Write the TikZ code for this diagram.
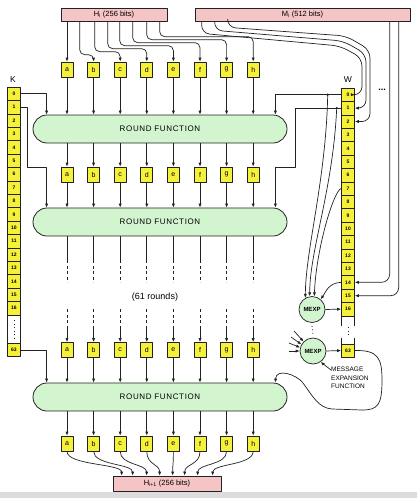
\documentclass[tikz,border=0pt]{standalone}
\usepackage{fontspec}
\setmainfont{Liberation Sans}
\usetikzlibrary{arrows.meta,calc}
\definecolor{regy}{HTML}{F5F03A}
\definecolor{rfg}{HTML}{D2F5CF}
\definecolor{pinkc}{HTML}{F5C4C4}
\definecolor{ink}{HTML}{222222}
\definecolor{stripg}{HTML}{DCDCDC}
\begin{document}
\begin{tikzpicture}[x=1pt,y=-1pt,line join=round,
  ln/.style={draw=ink,line width=0.7pt},
  arr/.style={ln,-{Latex[length=4pt,width=3.2pt]}},
  reg/.style={draw=ink,line width=0.7pt,fill=regy,minimum width=12pt,minimum height=15pt,inner sep=0pt,font=\fontsize{7}{7}\selectfont},
  cell/.style={draw=ink,line width=0.6pt,fill=regy,minimum width=13pt,minimum height=13.4pt,inner sep=0pt,font=\fontsize{5}{5}\selectfont\bfseries},
  rf/.style={draw=ink,line width=0.8pt,fill=rfg,rounded corners=14pt,minimum width=254pt,minimum height=28pt,inner sep=0pt,font=\fontsize{8}{8}\selectfont\addfontfeature{LetterSpace=8}},
  pbox/.style={draw=ink,line width=0.7pt,fill=pinkc,minimum height=13pt,inner sep=0pt,font=\fontsize{7.5}{7.5}\selectfont},
  mexp/.style={circle,draw=ink,line width=0.7pt,fill=rfg,minimum size=26pt,inner sep=0pt,font=\fontsize{6}{6}\selectfont\bfseries},
  jdot/.style={circle,fill=ink,inner sep=0pt,minimum size=2.6pt},
  dashv/.style={ln,dash pattern=on 3pt off 2.5pt},
  dotv/.style={ln,line width=0.9pt,dash pattern=on 0.9pt off 2.6pt},
  lbl/.style={font=\fontsize{8.5}{8.5}\selectfont}]
\useasboundingbox (0,0) rectangle (417,498);
\fill[stripg] (0,492) rectangle (417,498);

% message / hash boxes
\node[pbox,minimum width=106pt] (hi) at (114,14.5) {H\textsubscript{i} (256 bits)};
\node[pbox,minimum width=215pt] (mi) at (302.5,14.5) {M\textsubscript{i} (512 bits)};
\node[pbox,minimum width=108pt,minimum height=15pt] (hip) at (167,483.5) {H\textsubscript{i+1} (256 bits)};

% round functions
\node[rf] (rf1) at (160,129) {ROUND FUNCTION};
\node[rf] (rf2) at (160,222) {ROUND FUNCTION};
\node[rf] (rf3) at (160,397) {ROUND FUNCTION};

% registers
\foreach \j/\l in {1/a,2/b,3/c,4/d,5/e,6/f,7/g,8/h}{
  \node[reg] (r1-\j) at ({67+26.6*(\j-1)},69.5) {\l};
  \node[reg] (r2-\j) at ({67+26.6*(\j-1)},174.5) {\l};
  \node[reg] (r3-\j) at ({67+26.6*(\j-1)},350) {\l};
  \node[reg] (r4-\j) at ({67+26.6*(\j-1)},443.5) {\l};
}

% Hi -> registers
\draw[arr] (hi.south -| r1-1) -- (r1-1.north);
\foreach \j/\s/\u in {2/19/7,3/34/10,4/47/13,5/59/16,6/72/19,7/86/22,8/99/25}{
  \draw[arr,rounded corners=5pt] ([xshift=\s pt]hi.south west) |- ([yshift=\u pt]r1-\j.north) -- (r1-\j.north);
}

% vertical flow
\foreach \j in {1,...,8}{
  \draw[arr] (r1-\j.south) -- (r1-\j |- rf1.north);
  \draw[arr] (r2-\j |- rf1.south) -- (r2-\j.north);
  \draw[arr] (r2-\j.south) -- (r2-\j |- rf2.north);
  \draw[ln] (r2-\j |- rf2.south) -- ++(0,24) coordinate (ds\j);
  \draw[dashv] (ds\j) -- ++(0,22) coordinate (de\j);
  \draw[dashv] ([yshift=33pt]r3-\j.north) coordinate (dt\j) -- ([yshift=15pt]r3-\j.north) coordinate (du\j);
  \draw[arr] (du\j) -- (r3-\j.north);
  \draw[arr] (r3-\j.south) -- (r3-\j |- rf3.north);
  \draw[arr] (r4-\j |- rf3.south) -- (r4-\j.north);
}
\node[font=\fontsize{9}{9}\selectfont] (rounds) at (155,297) {(61 rounds)};

% registers -> H(i+1)
\foreach \j/\t in {1/9,2/20,3/34,4/47,5/60,6/72,7/85,8/100}{
  \coordinate (hp\j) at ([xshift=\t pt]hip.north west);
  \draw[arr] (r4-\j.south) .. controls ($(r4-\j.south)+(0,14)$) and ($(hp\j)+(0,-12)$) .. (hp\j);
}

% K column
\node[lbl] (klab) at (13,80) {K};
\foreach \i in {0,...,16}{\node[cell] (k\i) at (14,{93.7+13.4*\i}) {\i};}
\node[cell] (k63) at (14,350) {63};
\draw[ln] (k16.south west) -- (k63.north west);
\draw[ln] (k16.south east) -- (k63.north east);
\draw[dotv] ([yshift=-5pt]k16.south) -- ([yshift=5pt]k63.north);

% W column
\node[lbl] (wlab) at (348,80) {W};
\foreach \i in {0,...,16}{\node[cell] (w\i) at (348,{94.7+13.4*\i}) {\i};}
\node[cell] (w63) at (348,350.5) {63};
\draw[ln] (w16.south west) -- ++(0,10);
\draw[ln] (w16.south east) -- ++(0,10);
\draw[ln] (w63.north west) -- ++(0,-6);
\draw[ln] (w63.north east) -- ++(0,-6);
\draw[dotv] ([yshift=-11pt]w16.south) -- ([yshift=7pt]w63.north);
\node[font=\fontsize{9}{9}\selectfont\bfseries] (mdots) at (382,90) {...};

% K -> round functions
\coordinate (kb1) at (27,167);
\draw[arr] (k0.east) -| ([xshift=14pt]rf1.north west);
\draw[arr] (k1.east) -| (kb1) -| ([xshift=14pt]rf2.north west);
\draw[arr] (k63.east) -| ([xshift=14pt]rf3.north west);

% W -> round functions
\coordinate (wb1) at (295,167);
\draw[arr] (w0.west) -| ([xshift=-12pt]rf1.north east);
\draw[arr] (w1.west) -| (wb1) -| ([xshift=-12pt]rf2.north east);
\node[jdot] (j0) at ([xshift=-13.5pt]w0.west) {};
\node[jdot] (j1) at ([xshift=-4.5pt]w1.west) {};

% Mi -> W
\draw[arr,rounded corners=8pt] ([xshift=7pt]mi.south west) -- ++(0,12) -- (340,46) -- (362,58) |- (w0.east);
\draw[arr,rounded corners=8pt] ([xshift=20pt]mi.south west) -- ++(0,9) -- (343,41) -- (366,54) |- (w1.east);
\draw[arr,rounded corners=8pt] ([xshift=33pt]mi.south west) -- ++(0,6) -- (346,36) -- (370,50) |- (w2.east);
\draw[arr,rounded corners=8pt] ([xshift=195pt]mi.south west) |- (w14.east);
\draw[arr,rounded corners=8pt] ([xshift=204pt]mi.south west) |- (w15.east);

% message expansion
\node[mexp] (mexp1) at (312,309.5) {MEXP};
\node[mexp] (mexp2) at (313,351) {MEXP};
\draw[dotv] ([yshift=-3pt]mexp1.south) -- ([yshift=3pt]mexp2.north);
\draw[arr] (j0.center) .. controls (326,180) and (305.5,250) .. (mexp1.120);
\draw[arr] (j1.center) .. controls (333,190) and (309.7,250) .. (mexp1.100);
\draw[arr] (w7.west) .. controls (333.5,190.5) and (316,250) .. (mexp1.80);
\draw[arr] (w14.west) .. controls (328,283) and (326,292) .. (mexp1.50);
\draw[arr] (mexp1.east) -- (w16.west);
\draw[arr] (mexp2.east) -- (w63.west);
\coordinate (f1) at (294,331);
\coordinate (f2) at (291,337);
\coordinate (f3) at (289,343);
\coordinate (f4) at (289,351);
\draw[arr] (f1) -- (mexp2.135);
\draw[arr] (f2) -- (mexp2.150);
\draw[arr] (f3) -- (mexp2.165);
\draw[arr] (f4) -- (mexp2.180);
\node[anchor=north west,align=left,inner sep=0pt,font=\fontsize{6.5}{8.5}\selectfont] (mef) at (331,367) {MESSAGE\\EXPANSION\\FUNCTION};
\draw[arr] ([yshift=-3pt]mef.north west) -- (mexp2.-55);

% W63 -> last round function
\draw[arr] (w63.east) .. controls (378,350) and (382,358) .. (382,380) .. controls (382,405) and (378,410) .. (362,410) -- (332,409) .. controls (318,408) and (312,395) .. (303,383) .. controls (296,374) and (276,368) .. ([xshift=-12pt]rf3.north east);
\end{tikzpicture}
\end{document}
